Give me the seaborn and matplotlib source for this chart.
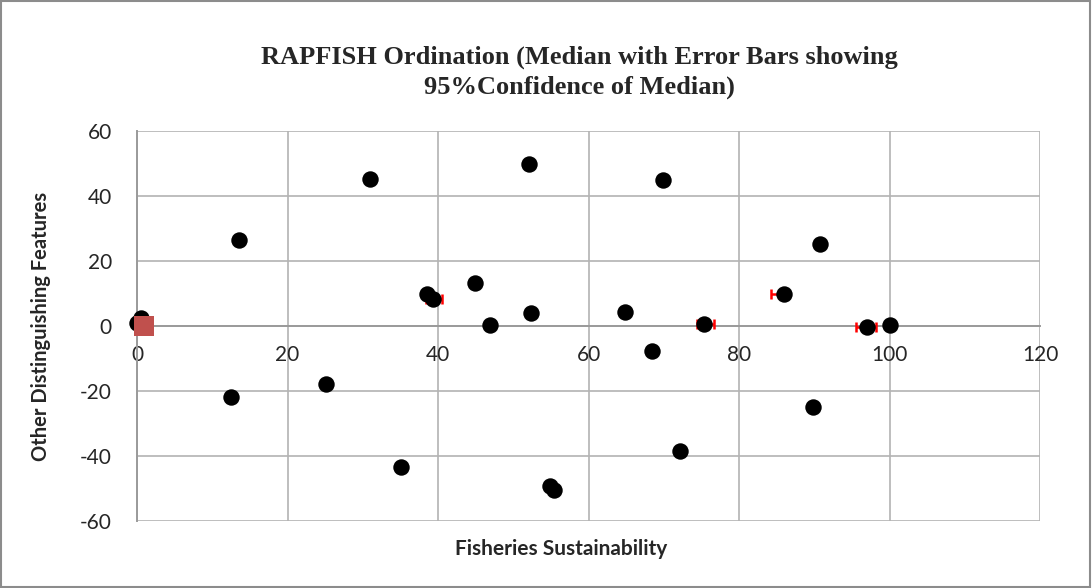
import numpy as np
import pandas as pd
import seaborn as sns
import matplotlib.pyplot as plt
from matplotlib.patches import Rectangle

# ordination scores (median) for each fishery
sustainability = [0.0, 0.5, 12.5, 13.6, 25.1, 30.9, 35.1, 38.5, 39.4, 44.9,
                  46.9, 52.1, 52.4, 54.9, 55.4, 64.9, 68.4, 69.9, 72.2, 75.4,
                  86.0, 89.9, 90.7, 97.0, 100.0]
other_features = [1.0, 2.4, -21.7, 26.5, -17.8, 45.3, -43.4, 9.7, 8.2, 13.1,
                  0.3, 49.9, 3.9, -49.1, -50.4, 4.4, -7.6, 44.9, -38.5, 0.6,
                  9.7, -24.8, 25.2, -0.2, 0.3]
# 95% confidence of median (lower / upper distance on the x axis)
err_low = [0, 0, 0, 0, 0.5, 0, 0, 0, 1.0, 0,
           0, 0, 0, 0, 0, 0.6, 0.5, 0, 0, 1.0,
           1.8, 0, 0, 1.4, 0]
err_high = [0, 0, 0, 0, 0.5, 0, 0, 0, 1.1, 0,
            0, 0, 0, 0, 0, 0.4, 0.2, 0, 0, 1.25,
            0.4, 0, 0, 1.15, 0]

# reference point
ref_x = [0.9]
ref_y = [0.0]

x_ticks = [0, 20, 40, 60, 80, 100, 120]
y_ticks = [-60, -40, -20, 0, 20, 40, 60]

df = pd.DataFrame({'x': sustainability, 'y': other_features})
ref = pd.DataFrame({'x': ref_x, 'y': ref_y})

sns.set_style('white')
plt.rcParams['font.family'] = ['Lato', 'DejaVu Sans']
plt.rcParams['axes.unicode_minus'] = False

fig = plt.figure(figsize=(10.92, 5.88), dpi=100)
ax = fig.add_axes([137 / 1092, 1 - 521 / 588, 903 / 1092, 390 / 588])

ax.errorbar(sustainability, other_features, xerr=[err_low, err_high],
            fmt='none', ecolor='#ff0000', elinewidth=1.8, capsize=3.8,
            capthick=1.8, zorder=3)
sns.scatterplot(data=df, x='x', y='y', ax=ax, color='black', s=140,
                edgecolor='black', linewidth=0, zorder=4)
sns.scatterplot(data=ref, x='x', y='y', ax=ax, color='#c0504d', marker='s',
                s=210, linewidth=0, zorder=5)
for coll in ax.collections:
    coll.set_clip_on(False)

ax.set_xlim(0, 120)
ax.set_ylim(-60, 60)
ax.set_xticks(x_ticks)
ax.set_yticks(y_ticks)
ax.grid(True, color='#b3b3b3', linewidth=1.2)
ax.set_axisbelow(True)

for side in ['top', 'right']:
    ax.spines[side].set_visible(False)
ax.spines['bottom'].set_position(('data', 0))
ax.spines['bottom'].set_color('#9a9a9a')
ax.spines['bottom'].set_linewidth(1.4)
ax.spines['left'].set_color('#9a9a9a')
ax.spines['left'].set_linewidth(1.4)

ax.tick_params(axis='x', direction='out', length=5, width=1.2,
               color='#9a9a9a', labelsize=15, pad=9)
ax.tick_params(axis='y', direction='out', length=6, width=1.2,
               color='#9a9a9a', labelsize=15, pad=12)

ax.set_xlabel('Fisheries Sustainability', fontsize=15, fontweight='bold')
ax.set_ylabel('Other Distinguishing Features', fontsize=14.5, fontweight='bold')
ax.xaxis.set_label_coords(0.47, -0.045)
ax.yaxis.set_label_coords(-0.095, 0.5)

fig.text(0.531, 0.877, 'RAPFISH Ordination (Median with Error Bars showing\n95%Confidence of Median)',
         ha='center', va='center', fontsize=19, fontweight='bold',
         family='Liberation Serif', linespacing=1.38)

fig.patches.append(Rectangle((0.001, 0.001), 0.997, 0.997, transform=fig.transFigure,
                             fill=False, edgecolor='#8c8c8c', linewidth=1.5))

fig.savefig('out.png', dpi=100)
